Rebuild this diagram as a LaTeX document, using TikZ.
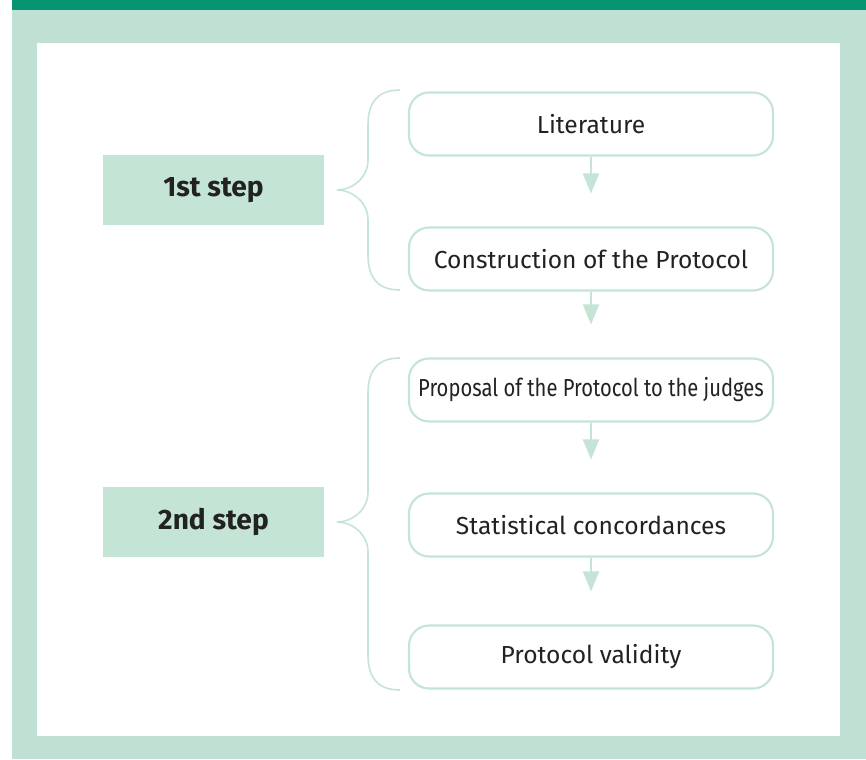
\documentclass[tikz,border=0pt]{standalone}
\usepackage{fontspec}
\setmainfont{Fira Sans}
\newfontfamily\narrowfont[FakeStretch=0.82]{Fira Sans}
\usetikzlibrary{arrows.meta}

\definecolor{bargreen}{HTML}{079470}
\definecolor{framegreen}{HTML}{C0E0D4}
\definecolor{boxgreen}{HTML}{C4E4D6}
\definecolor{textgray}{HTML}{222222}

\tikzset{
	stepbox/.style={fill=boxgreen, draw=none, minimum width=4.42cm, minimum height=1.4cm, font=\fontsize{16}{18}\selectfont\bfseries, text=textgray},
	taskbox/.style={draw=boxgreen, line width=1.2pt, fill=white, rounded corners=0.4cm, minimum width=7.28cm, minimum height=1.26cm, font=\fontsize{14}{16}\selectfont, text=textgray},
	flow/.style={draw=boxgreen, line width=1.1pt, -{Triangle[width=0.32cm,length=0.4cm]}, shorten >=0.66cm},
	curly/.style={draw=boxgreen, line width=0.9pt}
}

\begin{document}
\begin{tikzpicture}

				\useasboundingbox (0, 0) rectangle (17.32, -15.18);
				\fill [bargreen] (0.24, 0) rectangle (17.32, -0.2);
				\fill [framegreen] (0.24, -0.2) rectangle (17.32, -15.18);
				\fill [white] (0.74, -0.86) rectangle (16.8, -14.72);

				\node [stepbox] (S1) at (4.27, -3.8) {1st step};
				\node [stepbox] (S2) at (4.27, -10.44) {2nd step};

				\node [taskbox] (T1) at (11.82, -2.48) {Literature};
				\node [taskbox] (T2) at (11.82, -5.18) {Construction of the Protocol};
				\node [taskbox] (T3) at (11.82, -7.8) {\narrowfont Proposal of the Protocol to the judges};
				\node [taskbox] (T4) at (11.82, -10.5) {Statistical concordances};
				\node [taskbox] (T5) at (11.82, -13.14) {Protocol validity};

				\draw [flow] (T1) -- (T2);
				\draw [flow] (T2) -- (T3);
				\draw [flow] (T3) -- (T4);
				\draw [flow] (T4) -- (T5);

				% braces
				\draw [curly] (8, -1.8) .. controls (7.6, -1.8) and (7.36, -2.0) .. (7.36, -2.5) -- (7.36, -3.2)
					.. controls (7.36, -3.56) and (7.04, -3.8) .. (6.74, -3.8)
					.. controls (7.04, -3.8) and (7.36, -4.04) .. (7.36, -4.4) -- (7.36, -5.1)
					.. controls (7.36, -5.6) and (7.6, -5.8) .. (8, -5.8);
				\draw [curly] (8, -7.16) .. controls (7.6, -7.16) and (7.36, -7.36) .. (7.36, -7.86) -- (7.36, -9.84)
					.. controls (7.36, -10.2) and (7.04, -10.44) .. (6.74, -10.44)
					.. controls (7.04, -10.44) and (7.36, -10.68) .. (7.36, -11.04) -- (7.36, -13.1)
					.. controls (7.36, -13.6) and (7.6, -13.8) .. (8, -13.8);
		\end{tikzpicture}
\end{document}
